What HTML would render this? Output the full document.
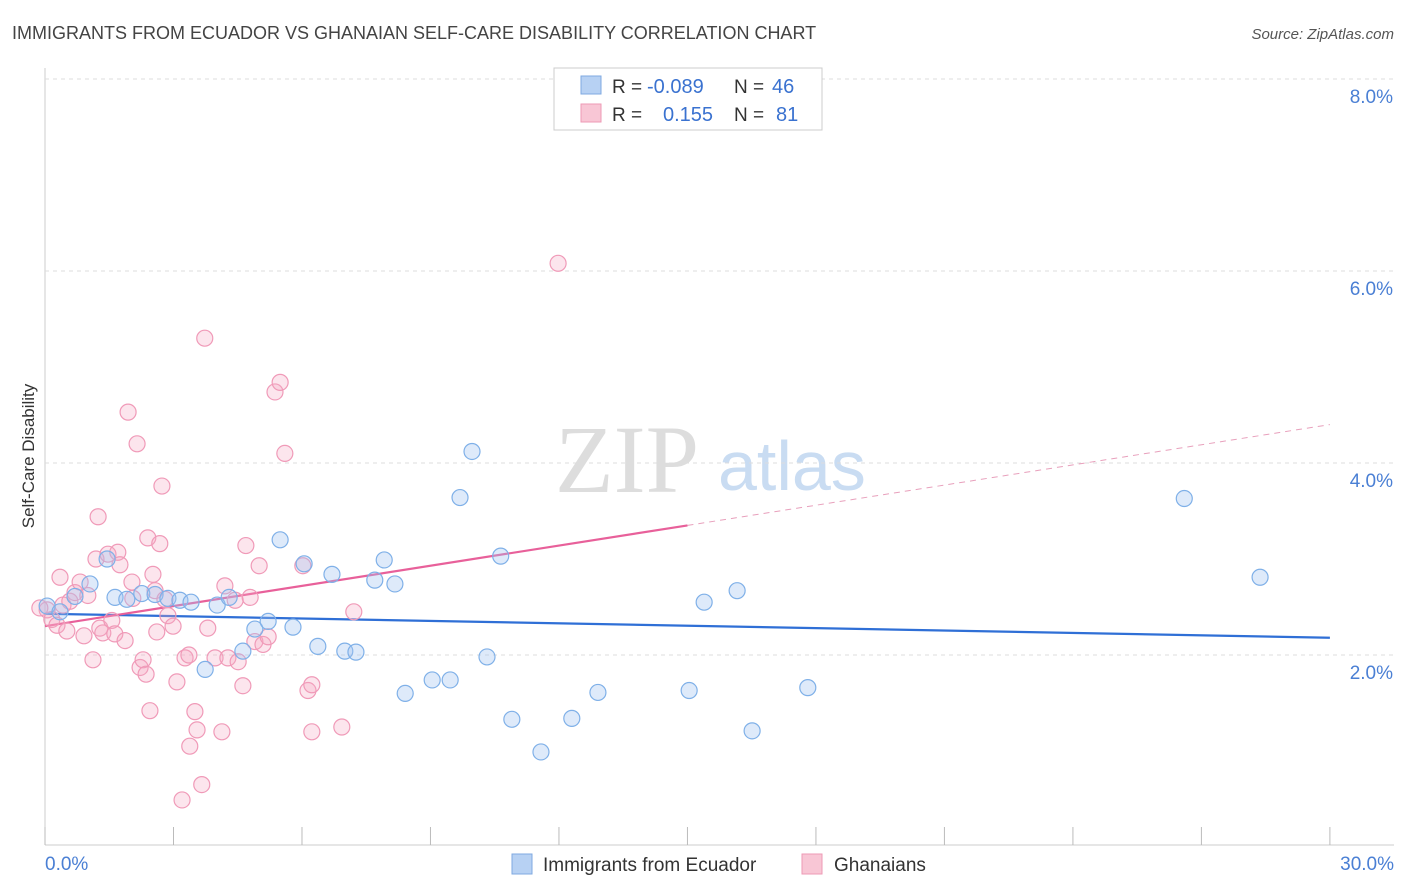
<!DOCTYPE html>
<html><head><meta charset="utf-8">
<style>
body{margin:0;background:#fff;font-family:"Liberation Sans",sans-serif;}
#wrap{position:relative;width:1406px;height:892px;overflow:hidden;}
</style></head>
<body>
<div id="wrap">
<svg id="chart" width="1406" height="892">
  <text x="12" y="39" font-size="18" fill="#444">IMMIGRANTS FROM ECUADOR VS GHANAIAN SELF-CARE DISABILITY CORRELATION CHART</text>
  <text x="1394" y="39" font-size="15" fill="#555" font-style="italic" text-anchor="end">Source: ZipAtlas.com</text>
  <text x="34" y="456" font-size="17" fill="#333" text-anchor="middle" transform="rotate(-90 34 456)">Self-Care Disability</text>
  <text x="555" y="492" font-size="96" fill="#ddd" font-family="Liberation Serif,serif">ZIP</text>
  <text x="718" y="490" font-size="70" fill="#c9dcf2">atlas</text>
  <g id="grid"></g>
  <g id="lines"></g>
  <g id="pts"></g>
  <g>
    <rect x="554" y="68" width="268" height="62" fill="#fff" stroke="#ccc"/>
    <rect x="581" y="76" width="20" height="18" fill="#b7d1f3" stroke="#7fa9e0"/>
    <rect x="581" y="104" width="20" height="18" fill="#f8c6d5" stroke="#ee9ab5"/>
    <text x="612" y="93" font-size="19" fill="#333">R = </text>
    <text x="647" y="93" font-size="20" fill="#3a72d0">-0.089</text>
    <text x="734" y="93" font-size="19" fill="#333">N = </text>
    <text x="772" y="93" font-size="20" fill="#3a72d0">46</text>
    <text x="612" y="121" font-size="19" fill="#333">R = </text>
    <text x="663" y="121" font-size="20" fill="#3a72d0">0.155</text>
    <text x="734" y="121" font-size="19" fill="#333">N = </text>
    <text x="776" y="121" font-size="20" fill="#3a72d0">81</text>
  </g>
  <g>
    <rect x="512" y="854" width="20" height="20" fill="#b7d1f3" stroke="#7fa9e0"/>
    <text x="543" y="871" font-size="19" fill="#333">Immigrants from Ecuador</text>
    <rect x="802" y="854" width="20" height="20" fill="#f8c6d5" stroke="#ee9ab5"/>
    <text x="834" y="871" font-size="19" fill="#333">Ghanaians</text>
  </g>
</svg>
</div>
<script>
const yTicks=[2,4,6,8];
const xTicks=[0,3,6,9,12,15,18,21,24,27,30];
const blueX=[0.05,0.35,0.7,1.05,1.45,1.635,1.91,2.26,2.57,2.87,3.15,3.41,3.74,4.02,4.3,4.62,4.9,5.21,5.49,5.79,6.05,6.37,6.7,7.0,7.26,7.7,7.92,8.17,8.41,9.04,9.46,9.69,9.97,10.32,10.64,10.9,11.58,12.3,12.91,15.04,15.39,16.16,16.51,17.81,26.6,28.37];
const blueY=[2.51,2.45,2.61,2.74,3.0,2.6,2.58,2.64,2.63,2.59,2.57,2.55,1.85,2.52,2.6,2.04,2.27,2.35,3.2,2.29,2.95,2.09,2.84,2.04,2.03,2.78,2.99,2.74,1.6,1.74,1.74,3.64,4.12,1.98,3.03,1.33,0.99,1.34,1.61,1.63,2.55,2.67,1.21,1.66,3.63,2.81];
const pinkX=[0.05,0.16,0.28,0.35,0.42,0.51,0.58,0.7,0.82,0.91,1.0,1.12,1.19,1.24,1.28,1.35,1.47,1.56,1.63,1.7,1.75,1.87,1.94,2.03,2.05,2.15,2.22,2.29,2.36,2.4,2.45,2.52,2.57,2.61,2.68,2.73,2.8,2.87,2.99,3.08,3.2,3.27,3.36,3.5,3.38,3.55,3.66,3.73,3.8,3.97,4.13,4.2,4.27,4.44,4.51,4.62,4.69,4.79,4.9,5.0,5.09,5.21,5.37,5.49,5.6,6.02,6.14,6.23,6.23,6.93,7.21,11.98,-0.12];
const pinkY=[2.47,2.37,2.31,2.81,2.52,2.25,2.56,2.65,2.76,2.2,2.62,1.95,3.0,3.44,2.28,2.23,3.05,2.36,2.22,3.07,2.94,2.15,4.53,2.76,2.59,4.2,1.87,1.95,1.8,3.22,1.42,2.84,2.67,2.24,3.16,3.76,2.58,2.41,2.3,1.72,0.49,1.97,2.0,1.41,1.05,1.22,0.65,5.3,2.28,1.97,1.2,2.72,1.97,2.57,1.93,1.68,3.14,2.6,2.14,2.93,2.11,2.19,4.74,4.84,4.1,2.93,1.63,1.69,1.2,1.25,2.45,6.08,2.49];
const X0=45,XS=42.83,Y0=847,YS=96;
const px=v=>X0+v*XS, py=v=>Y0-v*YS;
const NS="http://www.w3.org/2000/svg";
function mk(t,a,p){const e=document.createElementNS(NS,t);for(const k in a)e.setAttribute(k,a[k]);p.appendChild(e);return e;}
const grid=document.getElementById('grid');
mk('line',{x1:45,y1:845,x2:1394,y2:845,stroke:'#ccc'},grid);
mk('line',{x1:45,y1:68,x2:45,y2:845,stroke:'#ccc'},grid);
yTicks.forEach(t=>{
  const l=mk('line',{x1:45,y1:py(t),x2:1394,y2:py(t),stroke:'#ddd','stroke-dasharray':'4,4'},grid);
  
  
  const tx=mk('text',{x:1393,y:py(t)+24,'font-size':19,fill:'#4a7fd4','text-anchor':'end'},grid);
  tx.textContent=t.toFixed(1)+'%';
  
  
});
xTicks.forEach(t=>{
  const l=mk('line',{x1:px(t),y1:827,x2:px(t),y2:845,stroke:'#bbb'},grid);
  
  
});
[[0,'start',45],[30,'end',1394]].forEach(([t,a,x])=>{
  const tx=mk('text',{x:x,y:870,'font-size':19,fill:'#4a7fd4','text-anchor':a},grid);
  tx.textContent=t.toFixed(1)+'%';
  
  
});
const pts=document.getElementById('pts');
pinkX.forEach((x,i)=>{
  const c=mk('circle',{cx:px(x),cy:py(pinkY[i]),r:8,fill:'rgba(246,170,196,0.3)',stroke:'#f09ab8','stroke-width':1.2},pts);
  
  
});
blueX.forEach((x,i)=>{
  const c=mk('circle',{cx:px(x),cy:py(blueY[i]),r:8,fill:'rgba(160,196,240,0.35)',stroke:'#7fb0e8','stroke-width':1.2},pts);
  
  
});
const lines=document.getElementById('lines');
const b=mk('line',{x1:px(0),y1:py(2.43),x2:px(30),y2:py(2.18),stroke:'#2f6fd6','stroke-width':2.2},lines);


const p1=mk('line',{x1:px(0),y1:py(2.30),x2:px(15),y2:py(3.35),stroke:'#e8609a','stroke-width':2.2},lines);


const p2=mk('line',{x1:px(15),y1:py(3.35),x2:px(30),y2:py(4.40),stroke:'#e8a0bc','stroke-width':1,'stroke-dasharray':'6,5'},lines);


</script>
</body></html>
